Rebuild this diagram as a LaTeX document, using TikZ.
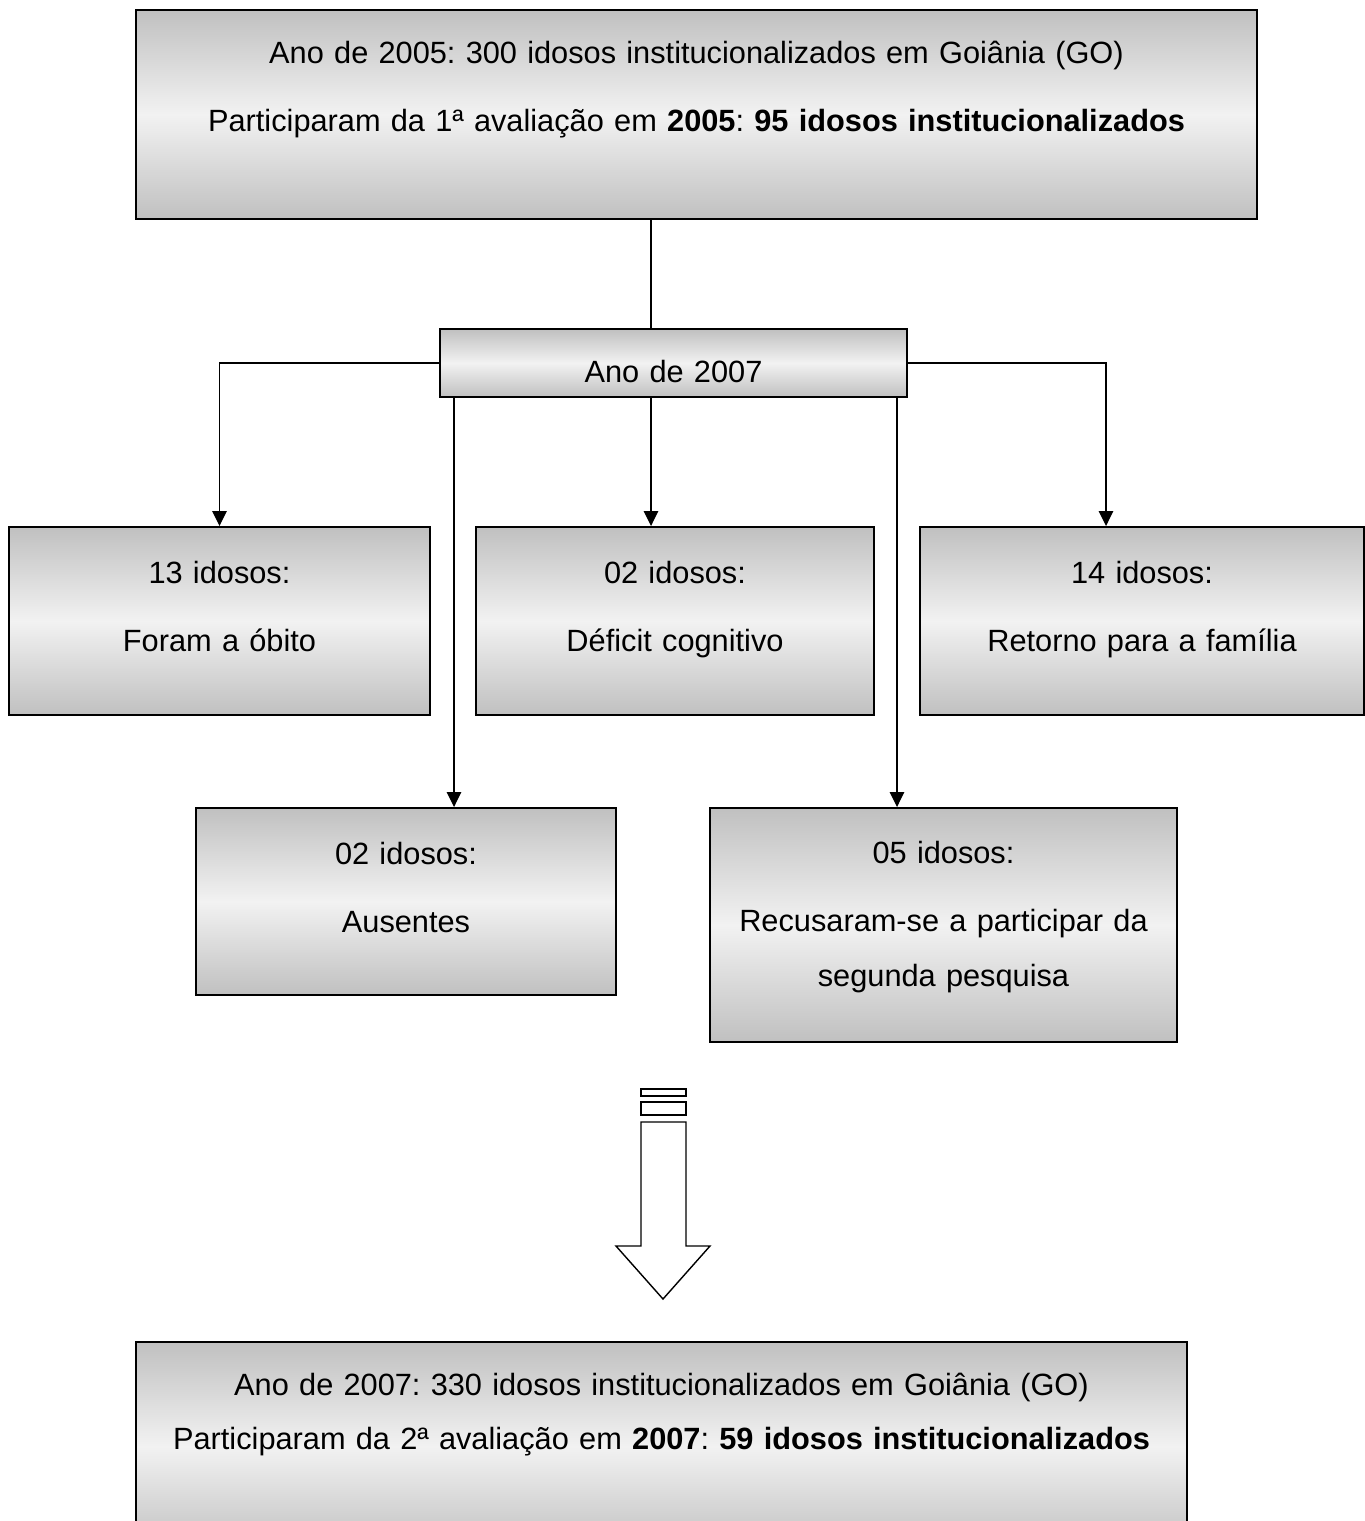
\documentclass[tikz,border=0pt]{standalone}
\usepackage{fontspec}
\setmainfont{Liberation Sans}
\frenchspacing
\usetikzlibrary{arrows.meta}
\definecolor{edgegray}{RGB}{192,192,192}
\definecolor{midgray}{RGB}{242,242,242}
\tikzset{
  box/.style 2 args={draw, line width=1.1pt, top color=edgegray, bottom color=edgegray,
    middle color=midgray, minimum width=#1*0.02cm, minimum height=#2*0.02cm, inner sep=0pt},
  txt/.style={text width=22cm, align=center, anchor=base, inner sep=0pt,
    font=\fontsize{17.5}{39}\selectfont},
  link/.style={line width=0.75pt},
  drop/.style={link, -{Triangle[length=0.3cm,width=0.29cm]}},
}
\begin{document}
\begin{tikzpicture}[x=0.02cm,y=-0.02cm]
    \useasboundingbox (0,0) rectangle (1365,1521);
    \clip (0,0) rectangle (1365,1521);

    % boxes
    \node[box={1121}{209}] (inicio) at (696.5,114.5) {};
    \node[box={467}{68}] (ano07) at (673.5,363) {};
    \node[box={421}{188}] (obito) at (219.5,621) {};
    \node[box={398}{188}] (deficit) at (675,621) {};
    \node[box={444}{188}] (familia) at (1142,621) {};
    \node[box={420}{187}] (ausentes) at (406,901.5) {};
    \node[box={467}{234}] (recusa) at (943.5,925) {};
    \node[box={1051}{209}] (final) at (661.5,1446.5) {};

    % texts
    \node[txt] (inicioT) at (696.5,63) {Ano de 2005: 300 idosos institucionalizados em Goiânia (GO)\\
      Participaram da 1ª avaliação em \textbf{2005}: \textbf{95 idosos institucionalizados}};
    \node[txt] (ano07T) at (673.5,382) {Ano de 2007};
    \node[txt] (obitoT) at (219.5,583) {13 idosos:\\ Foram a óbito};
    \node[txt] (deficitT) at (675,583) {02 idosos:\\ Déficit cognitivo};
    \node[txt] (familiaT) at (1142,583) {14 idosos:\\ Retorno para a família};
    \node[txt] (ausentesT) at (406,864) {02 idosos:\\ Ausentes};
    \node[txt] (recusaT) at (943.5,863) {05 idosos:\\ Recusaram-se a participar da\\[-7.9pt] segunda pesquisa};
    \node[txt] (finalT) at (661.5,1395) {Ano de 2007: 330 idosos institucionalizados em Goiânia (GO)\\[-7.9pt]
      Participaram da 2ª avaliação em \textbf{2007}: \textbf{59 idosos institucionalizados}};

    % columns of the connectors
    \coordinate (spine) at (651,0);
    \coordinate (colL) at (454,0);
    \coordinate (colR) at (897,0);
    \coordinate (colF) at (1106,0);

    % connectors
    \draw[link] (inicio.south -| spine) -- (ano07.north -| spine);
    \draw[drop] (ano07.west) -| (obito.north);
    \draw[drop] (ano07.south -| spine) -- (deficit.north -| spine);
    \draw[drop] (ano07.east) -| (familia.north -| colF);
    \draw[drop] (ano07.south -| colL) -- (ausentes.north -| colL);
    \draw[drop] (ano07.south -| colR) -- (recusa.north -| colR);

    % hollow arrow
    \draw[line width=0.8pt] (641,1089) rectangle (686,1096);
    \draw[line width=0.8pt] (641,1102) rectangle (686,1115);
    \draw[line width=0.8pt] (641,1122) -- (641,1246) -- (616,1246) -- (663,1299)
      -- (710,1246) -- (686,1246) -- (686,1122) -- cycle;
\end{tikzpicture}
\end{document}
